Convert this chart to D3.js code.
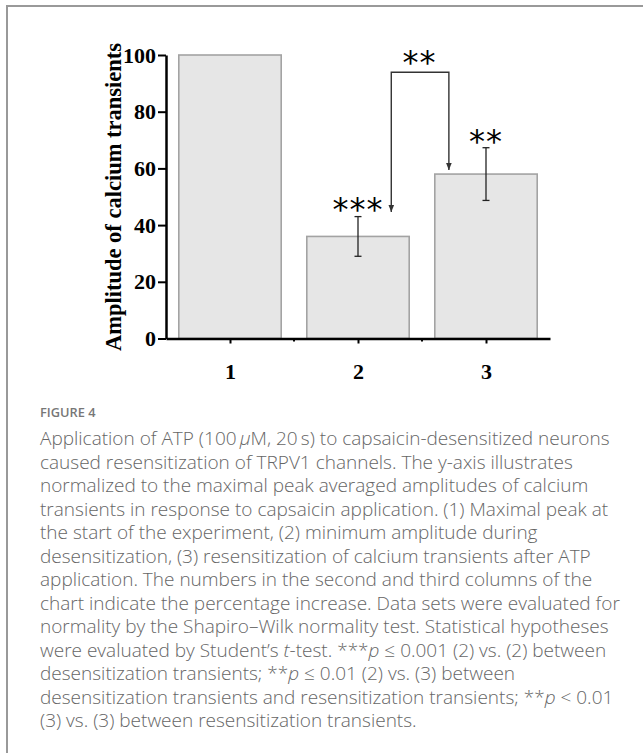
<html>
  <head>
    <script src="https://cdnjs.cloudflare.com/ajax/libs/d3/7.8.5/d3.min.js"></script>
  </head>
  <body style="margin:0;background:#fff;">
    <style>
      .tick text {font-family:"Liberation Serif",serif;font-weight:bold;font-size:22px;fill:#000;}
      .caption {font-family:"Open Sans",sans-serif;font-weight:300;font-size:19px;fill:#666;}
    </style>
    <div id="scene"></div>
    <script>

// D A T A

      let groups = [1, 2, 3]
      let means = [100, 36, 58]
      let errors = [0, 7, 9.3]
      let yTicks = [0, 20, 40, 60, 80, 100]

      // significance marks, in data units
      let stars = [
        {x: 2, y: 47.8, text: "***"},
        {x: 3, y: 71.8, text: "**"},
        {x: 2.48, y: 100, text: "**"}
      ]
      let bracket = {left: 2.26, right: 2.71, top: 93.9, leftEnd: 44.6, rightEnd: 59.4}

      let captionTitle = "FIGURE 4"
      let caption = [
        [["Application of ATP (100\u2009"], ["\u03bc", 1], ["M, 20\u2009s) to capsaicin-desensitized neurons"]],
        [["caused resensitization of TRPV1 channels. The y-axis illustrates"]],
        [["normalized to the maximal peak averaged amplitudes of calcium"]],
        [["transients in response to capsaicin application. (1) Maximal peak at"]],
        [["the start of the experiment, (2) minimum amplitude during"]],
        [["desensitization, (3) resensitization of calcium transients after ATP"]],
        [["application. The numbers in the second and third columns of the"]],
        [["chart indicate the percentage increase. Data sets were evaluated for"]],
        [["normality by the Shapiro\u2013Wilk normality test. Statistical hypotheses"]],
        [["were evaluated by Student\u2019s "], ["t", 1], ["-test. ***"], ["p", 1], [" \u2264 0.001 (2) vs. (2) between"]],
        [["desensitization transients; **"], ["p", 1], [" \u2264 0.01 (2) vs. (3) between"]],
        [["desensitization transients and resensitization transients; **"], ["p", 1], [" < 0.01"]],
        [["(3) vs. (3) between resensitization transients."]]
      ]


// S C E N E

      let W = 643, H = 753

      let svg = d3.select("#scene")
        .append("svg")
          .attr("width", W)
          .attr("height", H)

      // figure frame, left and top only
      svg.append("path")
        .attr("d", `M7,${H} V6 H${W}`)
        .attr("fill", "none")
        .attr("stroke", "#999")
        .attr("stroke-width", 2)

      let x = d3.scaleLinear()
        .domain([0.5, 3.5])
        .range([166, 550])

      let y = d3.scaleLinear()
        .domain([0, 100])
        .range([338.5, 55])

// B A R S

      let bw = 0.4
      svg.append("g")
        .selectAll("rect")
        .data(groups)
        .enter()
          .append("rect")
          .attr("x", d => x(d - bw))
          .attr("width", d => x(d + bw) - x(d - bw))
          .attr("y", (d, i) => y(means[i]))
          .attr("height", (d, i) => y(0) - y(means[i]))
          .attr("fill", "#e6e6e6")
          .attr("stroke", "#a3a3a3")
          .attr("stroke-width", 1.6)

      // error bars
      let eb = svg.append("g")
        .attr("stroke", "#222")
        .attr("stroke-width", 1.3)
        .selectAll("g")
        .data(groups.filter((d, i) => errors[i] > 0))
        .enter()
          .append("g")
      let idx = d => groups.indexOf(d)
      eb.append("line")
        .attr("x1", d => x(d)).attr("x2", d => x(d))
        .attr("y1", d => y(means[idx(d)] - errors[idx(d)]))
        .attr("y2", d => y(means[idx(d)] + errors[idx(d)]))
      for (let s of [-1, 1]) {
        eb.append("line")
          .attr("x1", d => x(d) - 3.5).attr("x2", d => x(d) + 3.5)
          .attr("y1", d => y(means[idx(d)] + s*errors[idx(d)]))
          .attr("y2", d => y(means[idx(d)] + s*errors[idx(d)]))
      }

// A X I S

      let yAxis = svg.append("g")
        .attr("transform", `translate(${x(0.5)},0)`)
        .call(d3.axisLeft(y).tickValues(yTicks).tickSize(8).tickPadding(2).tickSizeOuter(0))
      yAxis.select(".domain").attr("stroke-width", 2.5)
      yAxis.selectAll(".tick line").attr("stroke-width", 2)

      let xAxis = svg.append("g")
        .attr("transform", `translate(0,${y(0)})`)
        .call(d3.axisBottom(x).tickValues(groups).tickFormat(d3.format("d")).tickSize(5).tickPadding(20).tickSizeOuter(0))
      xAxis.select(".domain").attr("stroke-width", 2.5)
      xAxis.selectAll(".tick line").attr("stroke-width", 2)

      // minor ticks between groups
      svg.append("g")
        .selectAll("line")
        .data([1.5, 2.5])
        .enter()
          .append("line")
          .attr("x1", d => x(d)).attr("x2", d => x(d))
          .attr("y1", y(0)).attr("y2", y(0) + 3)
          .attr("stroke", "#000")
          .attr("stroke-width", 2)

      svg.append("text")
        .attr("transform", `translate(121,197) rotate(-90)`)
        .attr("text-anchor", "middle")
        .style("font-family", '"Liberation Serif",serif')
        .style("font-weight", "bold")
        .style("font-size", "22.5px")
        .text("Amplitude of calcium transients")

// S I G N I F I C A N C E

      svg.append("g")
        .selectAll("text")
        .data(stars)
        .enter()
          .append("text")
          .attr("x", d => x(d.x))
          .attr("y", d => y(d.y) + 17.5)
          .attr("text-anchor", "middle")
          .style("font-family", '"DejaVu Sans",sans-serif')
          .style("font-size", "32px")
          .style("letter-spacing", "1px")
          .text(d => d.text)

      svg.append("defs").append("marker")
        .attr("id", "arrow")
        .attr("viewBox", "0 0 10 10")
        .attr("refX", 10).attr("refY", 5)
        .attr("markerWidth", 5).attr("markerHeight", 5)
        .attr("orient", "auto-start-reverse")
        .append("path")
          .attr("d", "M0,1 L10,5 L0,9 z")
          .attr("fill", "#333")

      svg.append("path")
        .attr("d", `M${x(bracket.left)},${y(bracket.leftEnd)} V${y(bracket.top)} H${x(bracket.right)} V${y(bracket.rightEnd)}`)
        .attr("fill", "none")
        .attr("stroke", "#333")
        .attr("stroke-width", 1.4)
        .attr("marker-end", "url(#arrow)")
        .attr("marker-start", "url(#arrow)")

// C A P T I O N

      svg.append("text")
        .attr("x", 40)
        .attr("y", 417)
        .style("font-family", '"Open Sans",sans-serif')
        .style("font-weight", 600)
        .style("font-size", "12.8px")
        .style("fill", "#777")
        .text(captionTitle)

      let lines = svg.append("g")
        .attr("class", "caption")
        .selectAll("text")
        .data(caption)
        .enter()
          .append("text")
          .attr("x", 40)
          .attr("y", (d, i) => 445 + i*23.5)
      lines.selectAll("tspan")
        .data(d => d)
        .enter()
          .append("tspan")
          .style("font-style", d => d[1] ? "italic" : null)
          .text(d => d[0])

    </script>
  </body>
</html>
